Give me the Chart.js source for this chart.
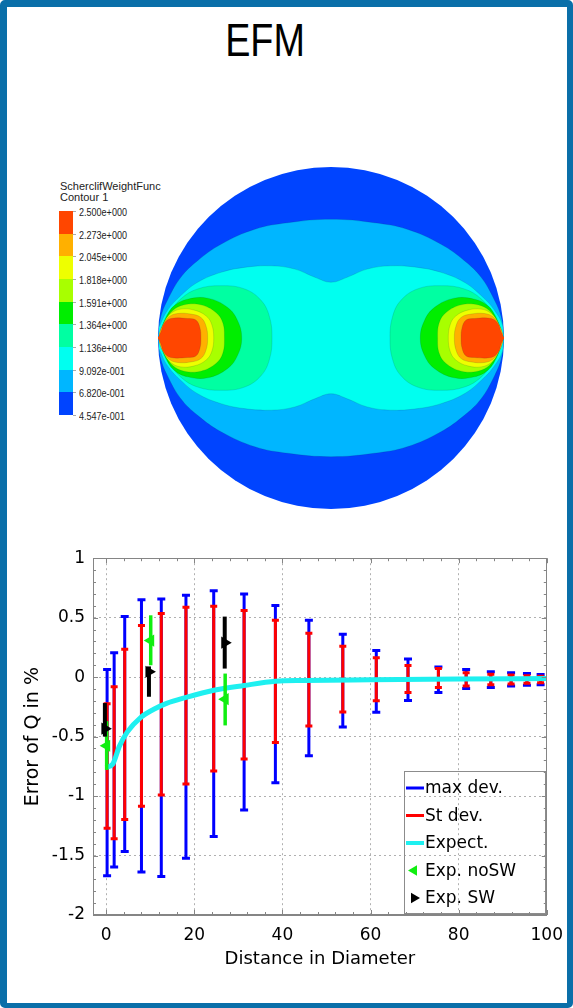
<!doctype html>
<html lang="en">
  <head>
    <meta charset="UTF-8" />
    <meta name="viewport" content="width=device-width, initial-scale=1.0" />
    <script src="https://cdn.jsdelivr.net/npm/chart.js@4.4.0/dist/chart.umd.min.js"></script>
    <style>
      body { margin: 0; background: #fff; }
      #frame {
        position: absolute; left: 0; top: 0; width: 573px; height: 1008px;
        box-sizing: border-box; border: solid #0a6fa9; border-width: 7px 6px 5px 7px; border-radius: 5px;
      }
      #title {
        position: absolute; left: 0; top: 17px; width: 530px; text-align: center;
        font: 46px/46px "Liberation Sans", Arial, sans-serif; color: #000; transform: scaleX(0.82);
      }
      #barTitle {
        position: absolute; left: 60px; top: 181px;
        font: 11px/10.5px "Liberation Sans", Arial, sans-serif; color: #222;
      }
      .band { position: absolute; left: 59px; width: 14px; }
      .mark { position: absolute; left: 73px; width: 3px; height: 1px; background: #aaa; }
      .lab {
        position: absolute; left: 79px; font: 10.5px/12px "Liberation Sans", Arial, sans-serif; color: #222;
        transform: scaleX(0.86); transform-origin: left center;
      }
      canvas { position: absolute; }
    </style>
  </head>
  <body>
    <div id="frame"></div>
    <div id="title">EFM</div>
    <div id="barTitle">ScherclifWeightFunc<br>Contour 1</div>
    <div id="colorbar"></div>
    <canvas id="contour" width="346" height="342" style="left:158px;top:167px"></canvas>
    <canvas id="errChart" width="573" height="440" style="left:0;top:540px"></canvas>

    <script>
      // contour legend, top to bottom
      const levelLabels = ['2.500e+000', '2.273e+000', '2.045e+000', '1.818e+000', '1.591e+000',
        '1.364e+000', '1.136e+000', '9.092e-001', '6.820e-001', '4.547e-001'];
      const levelColors = ['#ff4600', '#ffb000', '#eeff00', '#a8ff00', '#00ee00',
        '#00ffa2', '#00fff0', '#00b6ff', '#0044ff'];

      // contour boundaries, upper left quarter of the pipe section (units of radius)
      const lightBlueX = [0, -0.25, -0.44, -0.636, -0.771, -0.868, -0.946, -0.984, -1.0];
      const lightBlueY = [0.694, 0.674, 0.636, 0.548, 0.452, 0.355, 0.219, 0.122, 0.02];
      const cyanX = [0, -0.093, -0.209, -0.345, -0.5, -0.636, -0.771, -0.868, -0.946, -0.994];
      const cyanY = [0.326, 0.355, 0.403, 0.422, 0.413, 0.384, 0.326, 0.248, 0.161, 0.064];
      const mintX = [-0.341, -0.355, -0.403, -0.5, -0.636, -0.771, -0.868, -0.936, -0.984];
      const mintY = [0, 0.122, 0.219, 0.287, 0.306, 0.287, 0.229, 0.141, 0.045];
      const greenX = [-0.516, -0.539, -0.597, -0.713, -0.829, -0.907, -0.955, -0.984];
      const greenY = [0, 0.1, 0.178, 0.233, 0.227, 0.188, 0.12, 0.043];
      const yGreenX = [-0.616, -0.626, -0.665, -0.752, -0.849, -0.917, -0.955, -0.984];
      const yGreenY = [0, 0.091, 0.149, 0.194, 0.194, 0.159, 0.1, 0.033];
      const yellowX = [-0.678, -0.69, -0.723, -0.79, -0.868, -0.926, -0.965, -0.988];
      const yellowY = [0, 0.081, 0.13, 0.163, 0.169, 0.143, 0.091, 0.023];
      const orangeX = [-0.713, -0.723, -0.752, -0.81, -0.888, -0.936, -0.975, -0.994];
      const orangeY = [0, 0.072, 0.12, 0.14, 0.143, 0.124, 0.072, 0.023];
      const redX = [-0.752, -0.758, -0.781, -0.829, -0.926, -0.965, -0.984, -1.0];
      const redY = [0, 0.062, 0.105, 0.114, 0.114, 0.085, 0.033, 0.004];

      // error of Q along the pipe
      const distance = [0.2, 1.8, 4.2, 8.0, 12.5, 18.1, 24.4, 31.3, 38.4, 46.0,
        53.7, 61.3, 68.5, 75.4, 81.7, 87.3, 91.9, 95.5, 98.6];
      const maxDevHigh = [0.064, 0.205, 0.509, 0.65, 0.658, 0.688, 0.727, 0.699, 0.602, 0.478,
        0.36, 0.223, 0.152, 0.086, 0.064, 0.045, 0.036, 0.031, 0.022];
      const maxDevLow = [-1.671, -1.596, -1.467, -1.638, -1.676, -1.522, -1.339, -1.118, -0.887, -0.66,
        -0.419, -0.295, -0.196, -0.129, -0.096, -0.088, -0.075, -0.069, -0.063];
      const stDevHigh = [-0.224, -0.08, 0.235, 0.434, 0.534, 0.588, 0.597, 0.561, 0.478, 0.368,
        0.26, 0.163, 0.097, 0.072, 0.036, 0.025, 0.017, 0.011, 0.008];
      const stDevLow = [-1.27, -1.359, -1.198, -1.085, -0.99, -0.899, -0.79, -0.688, -0.55, -0.411,
        -0.293, -0.199, -0.129, -0.088, -0.075, -0.063, -0.058, -0.052, -0.047];
      const expectX = [-0.1, 1.5, 3.0, 4.8, 7.8, 10.8, 13.7, 18.1, 24.4, 31.3, 38.4, 45, 60, 80, 100];
      const expectY = [-0.76, -0.73, -0.58, -0.46, -0.34, -0.27, -0.22, -0.17, -0.11, -0.07,
        -0.035, -0.028, -0.022, -0.016, -0.012];
      const noSwX = [0.1, 10.1, 27.0];
      const noSwY = [-0.577, 0.307, -0.185];
      const noSwHigh = [-0.37, 0.52, 0.03];
      const noSwLow = [-0.78, 0.1, -0.406];
      const swX = [-0.3, 9.7, 26.9];
      const swY = [-0.433, 0.045, 0.29];
      const swHigh = [-0.218, 0.09, 0.509];
      const swLow = [-0.5, -0.165, 0.072];
      const xTicks = [0, 20, 40, 60, 80, 100];
      const yTicks = [1, 0.5, 0, -0.5, -1, -1.5, -2];

      // colour bar next to the section
      const colorbar = document.getElementById('colorbar');
      const bandTop = 211, bandH = 204 / levelColors.length;
      levelColors.forEach((c, i) => {
        const d = document.createElement('div');
        const t = Math.round(bandTop + i * bandH);
        d.className = 'band';
        d.style.top = t + 'px';
        d.style.height = (Math.round(bandTop + (i + 1) * bandH) - t) + 'px';
        d.style.background = c;
        colorbar.appendChild(d);
      });
      levelLabels.forEach((txt, i) => {
        const y = Math.round(bandTop + i * bandH);
        const m = document.createElement('div');
        m.className = 'mark';
        m.style.top = y + 'px';
        colorbar.appendChild(m);
        const l = document.createElement('div');
        l.className = 'lab';
        l.style.top = (y - 5) + 'px';
        l.textContent = txt;
        colorbar.appendChild(l);
      });

      // closed shapes from a quarter, using the symmetry of the section
      function fullShape(qx, qy) {
        const n = qx.length, pts = [];
        for (let i = n - 1; i >= 0; i--) pts.push({x: qx[i], y: qy[i]});
        for (let i = 1; i < n; i++) pts.push({x: -qx[i], y: qy[i]});
        for (let i = n - 1; i >= 0; i--) pts.push({x: -qx[i], y: -qy[i]});
        for (let i = 1; i < n; i++) pts.push({x: qx[i], y: -qy[i]});
        return pts;
      }
      function lobe(qx, qy, side) {
        const n = qx.length, pts = [];
        for (let i = n - 1; i >= 0; i--) pts.push({x: side * qx[i], y: qy[i]});
        for (let i = 1; i < n; i++) pts.push({x: side * qx[i], y: -qy[i]});
        return pts;
      }

      const shapes = [
        [fullShape(lightBlueX, lightBlueY), levelColors[7]],
        [fullShape(cyanX, cyanY), levelColors[6]]
      ];
      [[mintX, mintY, 5], [greenX, greenY, 4], [yGreenX, yGreenY, 3],
       [yellowX, yellowY, 2], [orangeX, orangeY, 1], [redX, redY, 0]].forEach(([qx, qy, c]) => {
        shapes.push([lobe(qx, qy, 1), levelColors[c]]);
        shapes.push([lobe(qx, qy, -1), levelColors[c]]);
      });

      const contourSets = shapes.map(([pts, color], i) => ({
        data: pts,
        showLine: true,
        fill: 'shape',
        backgroundColor: color,
        borderColor: 'rgba(0, 40, 60, 0.22)',
        borderWidth: 0.6,
        tension: 0.4,
        pointRadius: 0,
        order: shapes.length - i
      }));

      const pipeSection = {
        id: 'pipeSection',
        beforeDatasetsDraw(chart) {
          const {ctx, scales: {x, y}} = chart;
          const cx = x.getPixelForValue(0), cy = y.getPixelForValue(0);
          const rx = x.getPixelForValue(1) - cx, ry = cy - y.getPixelForValue(1);
          ctx.save();
          ctx.beginPath();
          ctx.ellipse(cx, cy, rx, ry, 0, 0, Math.PI * 2);
          ctx.fillStyle = levelColors[8];
          ctx.fill();
          ctx.clip();
        },
        afterDatasetsDraw(chart) {
          chart.ctx.restore();
        }
      };

      new Chart(document.getElementById('contour'), {
        type: 'scatter',
        data: { datasets: contourSets },
        options: {
          responsive: false,
          animation: false,
          devicePixelRatio: 1,
          layout: { padding: 0 },
          scales: {
            x: { type: 'linear', min: -1, max: 1, display: false },
            y: { type: 'linear', min: -1, max: 1, display: false }
          },
          plugins: { legend: { display: false }, tooltip: { enabled: false } }
        },
        plugins: [pipeSection]
      });

      // vertical error bars, drawn under each dataset's own points
      const errorBars = {
        id: 'errorBars',
        beforeDatasetDraw(chart, args) {
          const ds = chart.data.datasets[args.index];
          if (!ds.errHigh) return;
          const {ctx, scales: {x, y}} = chart;
          ctx.save();
          ctx.strokeStyle = ds.barColor;
          ctx.lineWidth = ds.barWidth;
          ds.data.forEach((p, i) => {
            const px = x.getPixelForValue(p.x);
            const top = y.getPixelForValue(ds.errHigh[i]);
            const bot = y.getPixelForValue(ds.errLow[i]);
            ctx.beginPath();
            ctx.moveTo(px, top);
            ctx.lineTo(px, bot);
            if (ds.capHalf) {
              ctx.moveTo(px - ds.capHalf, top);
              ctx.lineTo(px + ds.capHalf, top);
              ctx.moveTo(px - ds.capHalf, bot);
              ctx.lineTo(px + ds.capHalf, bot);
            }
            ctx.stroke();
          });
          ctx.restore();
        }
      };

      // closed box with small inward ticks, like the original plot
      const boxAxes = {
        id: 'boxAxes',
        afterDraw(chart) {
          const {ctx, chartArea: a, scales: {x, y}} = chart;
          ctx.save();
          ctx.strokeStyle = '#858585';
          ctx.lineWidth = 1;
          ctx.beginPath();
          for (let v = 0; v <= 100; v += 4) {
            const px = Math.round(x.getPixelForValue(v)) + 0.5;
            const len = v % 20 === 0 ? 5 : 3;
            ctx.moveTo(px, a.bottom); ctx.lineTo(px, a.bottom - len);
            ctx.moveTo(px, a.top); ctx.lineTo(px, a.top + len);
          }
          for (let k = -20; k <= 10; k++) {
            const py = Math.round(y.getPixelForValue(k / 10)) + 0.5;
            const len = k % 5 === 0 ? 5 : 3;
            ctx.moveTo(a.left, py); ctx.lineTo(a.left + len, py);
            ctx.moveTo(a.right, py); ctx.lineTo(a.right - len, py);
          }
          ctx.stroke();
          ctx.strokeRect(Math.round(a.left) + 0.5, Math.round(a.top) + 0.5,
            Math.round(a.right - a.left) - 1, Math.round(a.bottom - a.top) - 1);
          ctx.restore();
        }
      };

      // legend box inside the plot, lower right
      const boxLegend = {
        id: 'boxLegend',
        afterDraw(chart) {
          const {ctx, chartArea: a} = chart;
          const w = 141, h = 142;
          const left = Math.round(a.right - w - 2), top = Math.round(a.bottom - h - 2);
          ctx.save();
          ctx.strokeStyle = '#8c8c8c';
          ctx.lineWidth = 1;
          ctx.strokeRect(left + 0.5, top + 0.5, w, h);
          ctx.font = '17px "DejaVu Sans", sans-serif';
          ctx.textBaseline = 'middle';
          chart.data.datasets.forEach((ds, i) => {
            const rowY = top + 17 + i * 27.5;
            if (ds.pointStyle) {
              ctx.fillStyle = ds.pointBackgroundColor;
              Chart.helpers.drawPoint(ctx, { pointStyle: ds.pointStyle, rotation: ds.pointRotation,
                radius: 6, borderWidth: 0 }, left + 10, rowY);
            } else {
              ctx.strokeStyle = ds.borderColor;
              ctx.lineWidth = ds.legendWidth;
              ctx.beginPath();
              ctx.moveTo(left + 2, rowY);
              ctx.lineTo(left + 20, rowY);
              ctx.stroke();
            }
            ctx.fillStyle = '#000';
            ctx.fillText(ds.label, left + 21, rowY + 1);
          });
          ctx.restore();
        }
      };

      const xy = (xs, ys) => xs.map((v, i) => ({ x: v, y: ys[i] }));

      new Chart(document.getElementById('errChart'), {
        type: 'scatter',
        data: {
          datasets: [
            {
              label: 'max dev.',
              data: xy(distance, maxDevHigh),
              errHigh: maxDevHigh, errLow: maxDevLow,
              barColor: '#0000ff', barWidth: 3, capHalf: 4,
              borderColor: '#0000ff', legendWidth: 3,
              pointRadius: 0, order: 5
            },
            {
              label: 'St dev.',
              data: xy(distance, stDevHigh),
              errHigh: stDevHigh, errLow: stDevLow,
              barColor: '#ff0000', barWidth: 3, capHalf: 3.5,
              borderColor: '#ff0000', legendWidth: 3,
              pointRadius: 0, order: 4
            },
            {
              label: 'Expect.',
              data: xy(expectX, expectY),
              showLine: true,
              borderColor: '#1ef0f0', borderWidth: 5, legendWidth: 4,
              cubicInterpolationMode: 'monotone',
              pointRadius: 0, order: 3
            },
            {
              label: 'Exp. noSW',
              data: xy(noSwX, noSwY),
              errHigh: noSwHigh, errLow: noSwLow,
              barColor: '#11ee11', barWidth: 3.5,
              pointStyle: 'triangle', pointRotation: -90, pointRadius: 7,
              pointBackgroundColor: '#11ee11', pointBorderWidth: 0, order: 2
            },
            {
              label: 'Exp. SW',
              data: xy(swX, swY),
              errHigh: swHigh, errLow: swLow,
              barColor: '#000000', barWidth: 4,
              pointStyle: 'triangle', pointRotation: 90, pointRadius: 7,
              pointBackgroundColor: '#000000', pointBorderWidth: 0, order: 1
            }
          ]
        },
        options: {
          responsive: false,
          animation: false,
          devicePixelRatio: 1,
          layout: { padding: { left: 0, right: 19, top: 13, bottom: 0 } },
          scales: {
            x: {
              type: 'linear', min: -3, max: 100,
              afterBuildTicks: s => { s.ticks = xTicks.map(v => ({ value: v })); },
              afterFit: s => { s.height = 65; },
              ticks: { padding: 10, color: '#000', autoSkip: false, maxRotation: 0,
                font: { family: '"DejaVu Sans", sans-serif', size: 17 }, callback: v => String(v) },
              grid: { color: '#b0b0b0', drawTicks: false },
              border: { color: '#858585', dash: [2, 3] },
              title: { display: true, text: 'Distance in Diameter', color: '#000',
                font: { family: '"DejaVu Sans", sans-serif', size: 18 }, padding: { top: 0, bottom: 10 } }
            },
            y: {
              type: 'linear', min: -2, max: 1,
              afterBuildTicks: s => { s.ticks = yTicks.map(v => ({ value: v })); },
              afterFit: s => { s.width = 93; },
              ticks: { padding: 8, color: '#000', autoSkip: false,
                font: { family: '"DejaVu Sans", sans-serif', size: 17 }, callback: v => String(v) },
              grid: { color: '#b0b0b0', drawTicks: false },
              border: { color: '#858585', dash: [2, 3] },
              title: { display: true, text: 'Error of Q in %', color: '#000',
                font: { family: '"DejaVu Sans", sans-serif', size: 19 }, padding: { top: 22, bottom: 0 } }
            }
          },
          plugins: { legend: { display: false }, tooltip: { enabled: false } }
        },
        plugins: [errorBars, boxAxes, boxLegend]
      });
    </script>
  </body>
</html>
